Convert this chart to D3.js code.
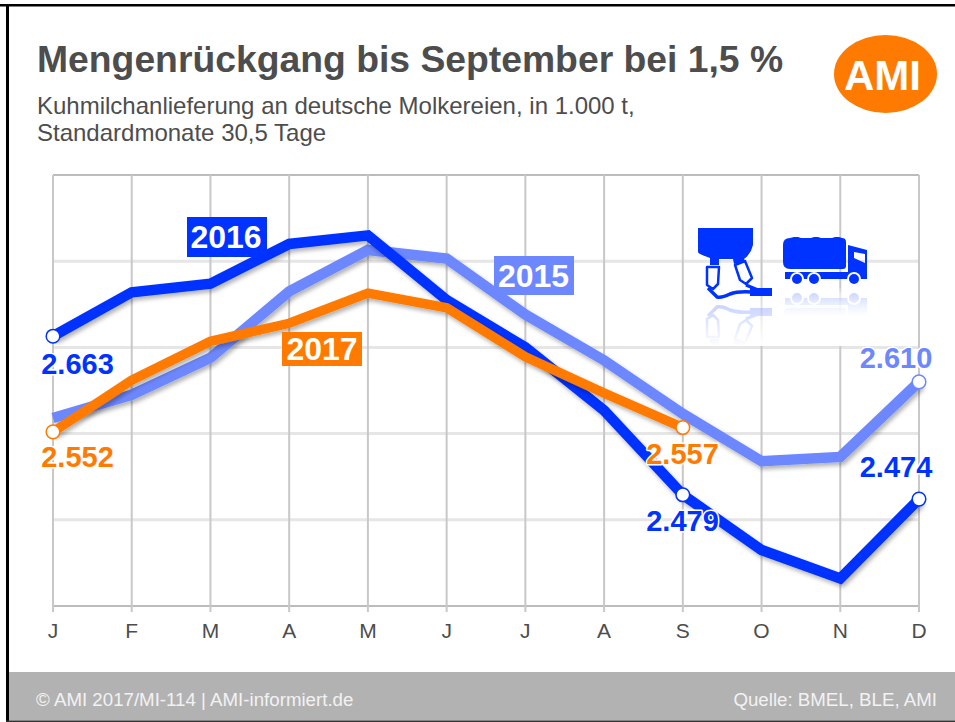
<!DOCTYPE html>
<html><head><meta charset="utf-8">
<script src="https://cdn.jsdelivr.net/npm/d3@7"></script>
<style>html,body{margin:0;padding:0;background:#fff}svg{display:block}text{font-family:"Liberation Sans",Arial,sans-serif}</style>
</head><body><svg id="c" width="955" height="722"></svg>
<script>
const months = ["J","F","M","A","M","J","J","A","S","O","N","D"];
const values2015 = [2568,2595,2638,2715,2763,2753,2688,2635,2573,2518,2523,2610];
const values2016 = [2663,2714,2724,2770,2780,2705,2650,2577,2479,2415,2382,2474];
const values2017 = [2552,2612,2657,2678,2713,2696,2639,2597,2557];
const yTicks = [2350,2450,2550,2650,2750,2850];
const BLUE="#0033ff", LIGHT="#6d87ff", ORANGE="#ff7a00", GREY="#4d4d4d";

const svg=d3.select("#c");
const defs=svg.append("defs");
const f=defs.append("filter").attr("id","sh").attr("x","-10%").attr("y","-10%").attr("width","120%").attr("height","130%");
f.append("feDropShadow").attr("dx",2).attr("dy",3).attr("stdDeviation",2).attr("flood-color","#000").attr("flood-opacity",.3);
const grad=defs.append("linearGradient").attr("id","fade").attr("x1",0).attr("x2",0).attr("y1",0).attr("y2",1);
grad.append("stop").attr("offset",0).attr("stop-color","#fff").attr("stop-opacity",.25);
grad.append("stop").attr("offset",1).attr("stop-color","#fff").attr("stop-opacity",1);
defs.append("clipPath").attr("id","rc").append("rect").attr("x",690).attr("y",288).attr("width",190).attr("height",58);

const x=d3.scalePoint().domain(d3.range(12)).range([53,919]);
const y=d3.scaleLinear().domain([2350,2850]).range([606,175]);

// frame
svg.append("rect").attr("x",0).attr("y",4).attr("width",955).attr("height",2.5).attr("fill","#000");
svg.append("rect").attr("x",6).attr("y",4).attr("width",3).attr("height",718).attr("fill","#000");
svg.append("rect").attr("x",9).attr("y",672).attr("width",946).attr("height",48.5).attr("fill","#b2b2b2");
svg.append("rect").attr("x",6).attr("y",720.5).attr("width",949).attr("height",1.5).attr("fill","#333");

// title
svg.append("text").attr("x",37).attr("y",72).attr("font-size",37.3).attr("font-weight","bold").attr("fill",GREY).text("Mengenrückgang bis September bei 1,5 %");
svg.append("text").attr("x",37).attr("y",114).attr("font-size",24).attr("fill",GREY).text("Kuhmilchanlieferung an deutsche Molkereien, in 1.000 t,");
svg.append("text").attr("x",37).attr("y",141).attr("font-size",24).attr("fill",GREY).text("Standardmonate 30,5 Tage");

// logo
svg.append("ellipse").attr("cx",885.5).attr("cy",74).attr("rx",51.5).attr("ry",39).attr("fill",ORANGE);
svg.append("text").attr("x",882.5).attr("y",90).attr("text-anchor","middle").attr("font-size",42).attr("font-weight","bold").attr("fill","#fff").text("AMI");

// grid
const g=svg.append("g");
g.selectAll("line.h").data(yTicks).join("line").attr("x1",53).attr("x2",919)
 .attr("y1",d=>y(d)).attr("y2",d=>y(d))
 .attr("stroke",(d,i)=>(i==0||i==5)?"#bcbcbc":"#e6e6e6").attr("stroke-width",d=>(d==2350||d==2850)?2:3);
g.selectAll("line.v").data(d3.range(12)).join("line").attr("x1",d=>x(d)).attr("x2",d=>x(d))
 .attr("y1",175).attr("y2",612).attr("stroke","#c8c8c8").attr("stroke-width",2);
svg.append("g").selectAll("text").data(months).join("text").attr("x",(d,i)=>x(i)).attr("y",638)
 .attr("text-anchor","middle").attr("font-size",21).attr("fill",GREY).text(d=>d);

// icons
function milker(s){
 s.append("path").attr("d","M698 228H753V245Q751 254 744 259L745 262L734 264L733 259H719V265H710V258Q698 254 698 252Z").attr("fill",BLUE);
 s.append("path").attr("d","M707 267H719L718 284L713 289L707 285Z M735 265L745 261L752 278L746 284L740 280Z").attr("fill","none").attr("stroke",BLUE).attr("stroke-width",2.5).attr("stroke-linejoin","round");
 s.append("path").attr("d","M708 288L717 297Q722 298 730 294Q738 291 752 292M746 285L758 290").attr("fill","none").attr("stroke",BLUE).attr("stroke-width",3.5);
 s.append("rect").attr("x",750).attr("y",288).attr("width",22).attr("height",8).attr("fill",BLUE);
}
function truck(s){
 s.append("path").attr("d","M790 238L794 237H798L801 238H811L814 237H818L821 238H832L835 237H839L842 238Q846 238 846 242V266Q846 269 843 269H790Q783 269 783 262V245Q783 238 790 238Z").attr("fill",BLUE);
 s.append("path").attr("d","M785 272H848V245L867 250V279H785Z M854 252V258L865 263V254Z").attr("fill",BLUE).attr("fill-rule","evenodd");
 s.selectAll("circle").data([797,814,854]).join("circle").attr("cx",d=>d).attr("cy",279).attr("r",6).attr("fill",BLUE).attr("stroke","#fff").attr("stroke-width",2);
}
const icons=svg.append("g");
const rw=icons.append("g").attr("clip-path","url(#rc)");
const refl=rw.append("g").attr("opacity",.4).attr("transform","translate(0,604) scale(1,-1)");
milker(refl.append("g")); truck(refl.append("g").attr("transform","translate(0,27)"));
icons.append("rect").attr("x",690).attr("y",288).attr("width",190).attr("height",58).attr("fill","url(#fade)");
icons.append("rect").attr("x",778).attr("y",292).attr("width",100).attr("height",24).attr("fill","url(#fade)");
icons.append("rect").attr("x",778).attr("y",316).attr("width",100).attr("height",30).attr("fill","#fff");
milker(icons.append("g")); truck(icons.append("g"));

// lines
const line=d3.line().x((d,i)=>x(i)).y(d=>y(d));
function series(v,c,w){svg.append("path").attr("d",line(v)).attr("fill","none").attr("stroke",c).attr("stroke-width",w).attr("stroke-linejoin","miter").attr("filter","url(#sh)");}
series(values2015,LIGHT,10.5); series(values2016,BLUE,10.5); series(values2017,ORANGE,9.5);

// endpoints
const pts=[[0,values2016[0],BLUE],[8,values2016[8],BLUE],[11,values2016[11],BLUE],[11,values2015[11],LIGHT],[0,values2017[0],ORANGE],[8,values2017[8],ORANGE]];
svg.selectAll("circle.p").data(pts).join("circle").attr("class","p").attr("cx",d=>x(d[0])).attr("cy",d=>y(d[1])).attr("r",6.8).attr("fill","#fff").attr("stroke",d=>d[2]).attr("stroke-width",1.5);

// value labels
const fmt=v=>d3.format(",")(v).replace(",",".");
const labels=[[77.5,374,values2016[0],BLUE],[77.5,467,values2017[0],ORANGE],[682.5,464,values2017[8],ORANGE],[682.5,531,values2016[8],BLUE],[896,477,values2016[11],BLUE],[896,368,values2015[11],LIGHT]];
svg.selectAll("text.v").data(labels).join("text").attr("class","v").attr("x",d=>d[0]).attr("y",d=>d[1]).attr("text-anchor","middle")
 .attr("font-size",29).attr("font-weight","bold").attr("fill",d=>d[3])
 .attr("stroke","#fff").attr("stroke-width",3).attr("stroke-linejoin","round").attr("paint-order","stroke").text(d=>fmt(d[2]));

// year tags
const tags=[["2016",187,217,80,40,BLUE,-1],["2015",494,256,80,39,LIGHT,-0.5],["2017",282,332,80,34,ORANGE,0]];
tags.forEach(t=>{
 svg.append("rect").attr("x",t[1]).attr("y",t[2]).attr("width",t[3]).attr("height",t[4]).attr("fill",t[5]);
 svg.append("text").attr("x",t[1]+t[3]/2+t[6]).attr("y",t[2]+t[4]/2+11).attr("text-anchor","middle").attr("font-size",32).attr("font-weight","bold").attr("fill","#fff").text(t[0]);
});

// footer
svg.append("text").attr("x",36).attr("y",706).attr("font-size",18.7).attr("fill","#f2f2f2").text("© AMI 2017/MI-114 | AMI-informiert.de");
svg.append("text").attr("x",937).attr("y",706).attr("text-anchor","end").attr("font-size",18.7).attr("fill","#f2f2f2").text("Quelle: BMEL, BLE, AMI");
</script></body></html>
